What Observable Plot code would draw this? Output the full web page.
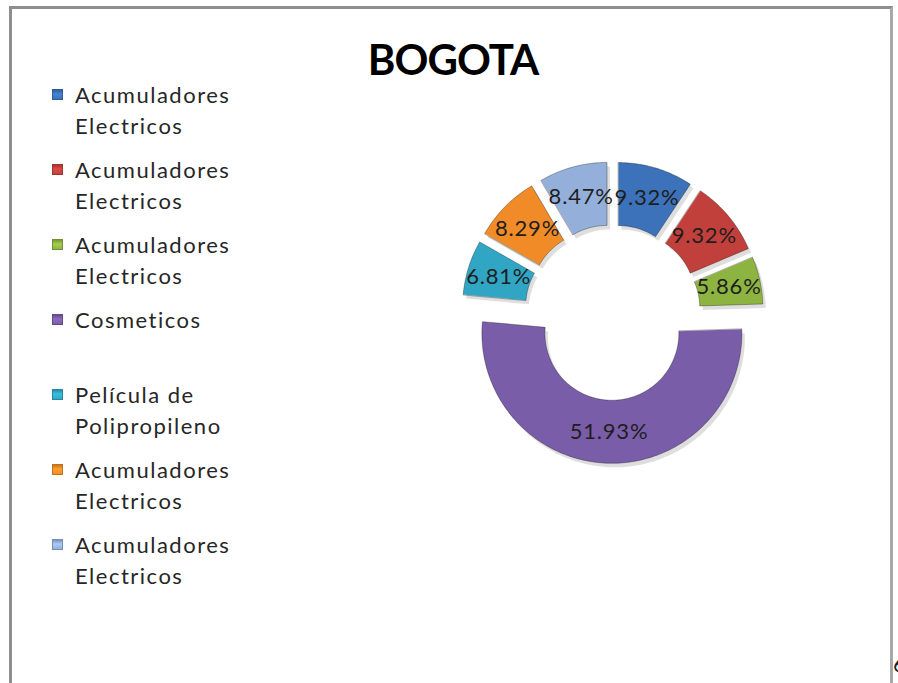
<!DOCTYPE html>
<html>
<head>
<meta charset="utf-8">
<script src="https://cdn.jsdelivr.net/npm/d3@7"></script>
<script src="https://cdn.jsdelivr.net/npm/@observablehq/plot@0.6"></script>
<style>
  html, body { margin: 0; padding: 0; background: #fff; overflow: hidden; }
  #page { position: relative; width: 898px; height: 683px; overflow: hidden; font-family: Lato, "Open Sans", sans-serif; }
  #frame { position: absolute; left: 9px; top: 6px; width: 884px; height: 700px;
           border-left: 3px solid #8e8e8e; border-top: 3px solid #8e8e8e; border-right: 3px solid #a8a8a8; box-sizing: border-box; }
  #title { position: absolute; left: 0; width: 906px; top: 34px; text-align: center; font-weight: 700; font-size: 42px; letter-spacing: -1px; color: #000; }
  #legend { position: absolute; left: 52px; top: 79px; }
  .item { position: absolute; left: 0; width: 220px; }
  .sw { position: absolute; left: 0; top: 10px; width: 11px; height: 11px; box-sizing: border-box; }
  .lab { position: absolute; left: 23px; top: 0; width: 190px; font-size: 22px; letter-spacing: 1.5px; line-height: 31px; color: #262626; }
  #chart { position: absolute; left: 0; top: 0; }
  #chart text { letter-spacing: 0.8px; }
  #stray { position: absolute; left: 893px; top: 650px; font-size: 22px; color: #222; }
</style>
</head>
<body>
<div id="page">
  <div id="chart"></div>
  <div id="frame"></div>
  <div id="title">BOGOTA</div>
  <div id="legend"></div>
  <div id="stray">6</div>
</div>
<script>
// ---- data ----
const categories = [
  "Acumuladores Electricos",
  "Acumuladores Electricos",
  "Acumuladores Electricos",
  "Cosmeticos",
  "Película de Polipropileno",
  "Acumuladores Electricos",
  "Acumuladores Electricos"
];
const values = [9.32, 9.32, 5.86, 51.93, 6.81, 8.29, 8.47];
const colors = ["#3C72B9", "#C2403C", "#8DB440", "#7A5DA8", "#31A6C4", "#F08B27", "#94B0DA"];
const legendOrder = [0, 1, 2, 3, 4, 5, 6];

// ---- layout (pixels) ----
const W = 898, H = 683;
const cxPx = 612, cyPx = 312, Rpx = 130;
const innerFrac = 0.515, explode = 0.16;

// ---- geometry from values ----
const total = d3.sum(values);
let acc = 0;
const slices = values.map((v, i) => {
  const a0 = acc / total * 2 * Math.PI;
  acc += v;
  const a1 = acc / total * 2 * Math.PI;
  const am = (a0 + a1) / 2;
  return {i, v, a0, a1, am, ox: explode * Math.sin(am), oy: explode * Math.cos(am)};
});
const points = [];
for (const s of slices) {
  const n = Math.max(8, Math.ceil((s.a1 - s.a0) / 0.02));
  for (let k = 0; k <= n; k++) {
    const a = s.a0 + (s.a1 - s.a0) * k / n;
    points.push({i: s.i, x: s.ox + Math.sin(a), y: s.oy + Math.cos(a)});
  }
  for (let k = n; k >= 0; k--) {
    const a = s.a0 + (s.a1 - s.a0) * k / n;
    points.push({i: s.i, x: s.ox + innerFrac * Math.sin(a), y: s.oy + innerFrac * Math.cos(a)});
  }
}
const mid = (1 + innerFrac) / 2;
const labels = slices.map(s => ({
  x: s.ox + mid * Math.sin(s.am),
  y: s.oy + mid * Math.cos(s.am),
  text: s.v.toFixed(2) + "%"
}));

const chart = Plot.plot({
  width: W, height: H, margin: 0,
  style: {background: "transparent"},
  x: {domain: [-cxPx / Rpx, (W - cxPx) / Rpx], axis: null},
  y: {domain: [-(H - cyPx) / Rpx, cyPx / Rpx], axis: null},
  color: {domain: d3.range(values.length), range: colors},
  marks: [
    Plot.line(points, {x: "x", y: "y", z: "i", fill: "#000", fillOpacity: 0.13, stroke: "none", curve: "linear-closed", dx: 3, dy: 4}),
    Plot.line(points, {x: "x", y: "y", z: "i", fill: "i", stroke: "rgba(0,0,0,0.3)", strokeWidth: 1, curve: "linear-closed"}),
    Plot.text(labels, {x: "x", y: "y", text: "text", fontSize: 22, fill: "#1e1e1e", fontFamily: "Lato, 'Open Sans', sans-serif"})
  ]
});
document.getElementById("chart").appendChild(chart);

// legend
const legend = document.getElementById("legend");
legendOrder.forEach((idx, k) => {
  const item = document.createElement("div");
  item.className = "item";
  item.style.top = (k * 75) + "px";
  const sw = document.createElement("div");
  sw.className = "sw";
  const c = d3.color(colors[idx]);
  sw.style.background = `linear-gradient(180deg, ${c.darker(0.5)} 0%, ${c.brighter(0.4)} 45%, ${c} 100%)`;
  sw.style.border = `1px solid ${c.darker(0.6)}`;
  const lab = document.createElement("div");
  lab.className = "lab";
  lab.textContent = categories[idx];
  item.appendChild(sw);
  item.appendChild(lab);
  legend.appendChild(item);
});
</script>
</body>
</html>
